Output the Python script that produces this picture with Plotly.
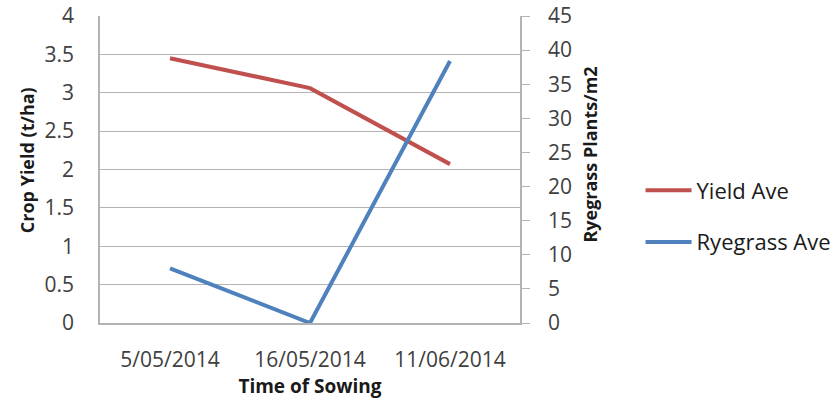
import plotly.graph_objects as go

# Sowing dates (category axis)
sowing_dates = ["5/05/2014", "16/05/2014", "11/06/2014"]
# Average crop yield, t/ha (left axis)
yield_ave = [3.45, 3.06, 2.07]
# Average ryegrass plants per m2 (right axis)
ryegrass_ave = [8.0, 0.0, 38.4]

left_ticks = [0, 0.5, 1, 1.5, 2, 2.5, 3, 3.5, 4]
left_tick_text = ["0", "0.5", "1", "1.5", "2", "2.5", "3", "3.5", "4"]
right_ticks = [0, 5, 10, 15, 20, 25, 30, 35, 40, 45]

RED = "#C0504D"
BLUE = "#4F81BD"
GRID = "#B3B3B3"
TEXT = "#404040"
TITLE = "#1a1a1a"
FONT = "Open Sans"

fig = go.Figure()
fig.add_trace(go.Scatter(
    x=sowing_dates, y=yield_ave, name="Yield Ave", mode="lines",
    line=dict(color=RED, width=4), yaxis="y", legendgroup="a",
))
fig.add_trace(go.Scatter(
    x=sowing_dates, y=ryegrass_ave, name="Ryegrass Ave", mode="lines",
    line=dict(color=BLUE, width=4), yaxis="y2", legendgroup="b",
))

fig.update_layout(
    width=839, height=407,
    margin=dict(l=100, r=319, t=16, b=84, autoexpand=False),
    paper_bgcolor="white", plot_bgcolor="white",
    font=dict(family=FONT, color=TEXT, size=20),
    showlegend=True,
    legend=dict(
        x=1.287, y=0.50, xanchor="left", yanchor="top",
        font=dict(family=FONT, size=22, color=TITLE),
        tracegroupgap=20, itemwidth=46, bgcolor="rgba(0,0,0,0)",
    ),
    xaxis=dict(
        type="category", range=[-0.5, 2.5],
        showgrid=False, showline=True, linecolor=GRID, linewidth=1.5,
        ticks="", ticklabelstandoff=17,
        tickfont=dict(family=FONT, size=21, color=TEXT),
        title=dict(text="<b>Time of Sowing</b>", standoff=6,
                   font=dict(family=FONT, size=19, color=TITLE)),
    ),
    yaxis=dict(
        range=[0, 4], tickvals=left_ticks, ticktext=left_tick_text,
        showgrid=True, gridcolor=GRID, gridwidth=1.3,
        showline=True, linecolor=GRID, linewidth=1.5,
        ticks="", ticklabelstandoff=20, zeroline=False,
        tickfont=dict(family=FONT, size=21, color=TEXT),
    ),
    yaxis2=dict(
        range=[0, 45], tickvals=right_ticks, overlaying="y", side="right",
        showgrid=False, showline=True, linecolor=GRID, linewidth=1.5,
        ticks="outside", ticklen=8, tickcolor=GRID, tickwidth=1.3,
        ticklabelstandoff=14, zeroline=False,
        tickfont=dict(family=FONT, size=21, color=TEXT),
    ),
    annotations=[
        dict(text="<b>Crop Yield (t/ha)</b>", textangle=-90,
             xref="paper", yref="paper", x=-0.174, y=0.53,
             xanchor="center", yanchor="middle", showarrow=False,
             font=dict(family=FONT, size=18, color=TITLE)),
        dict(text="<b>Ryegrass Plants/m2</b>", textangle=-90,
             xref="paper", yref="paper", x=1.167, y=0.549,
             xanchor="center", yanchor="middle", showarrow=False,
             font=dict(family=FONT, size=18, color=TITLE)),
    ],
)

fig.write_html("out.html", config={"displayModeBar": False})
